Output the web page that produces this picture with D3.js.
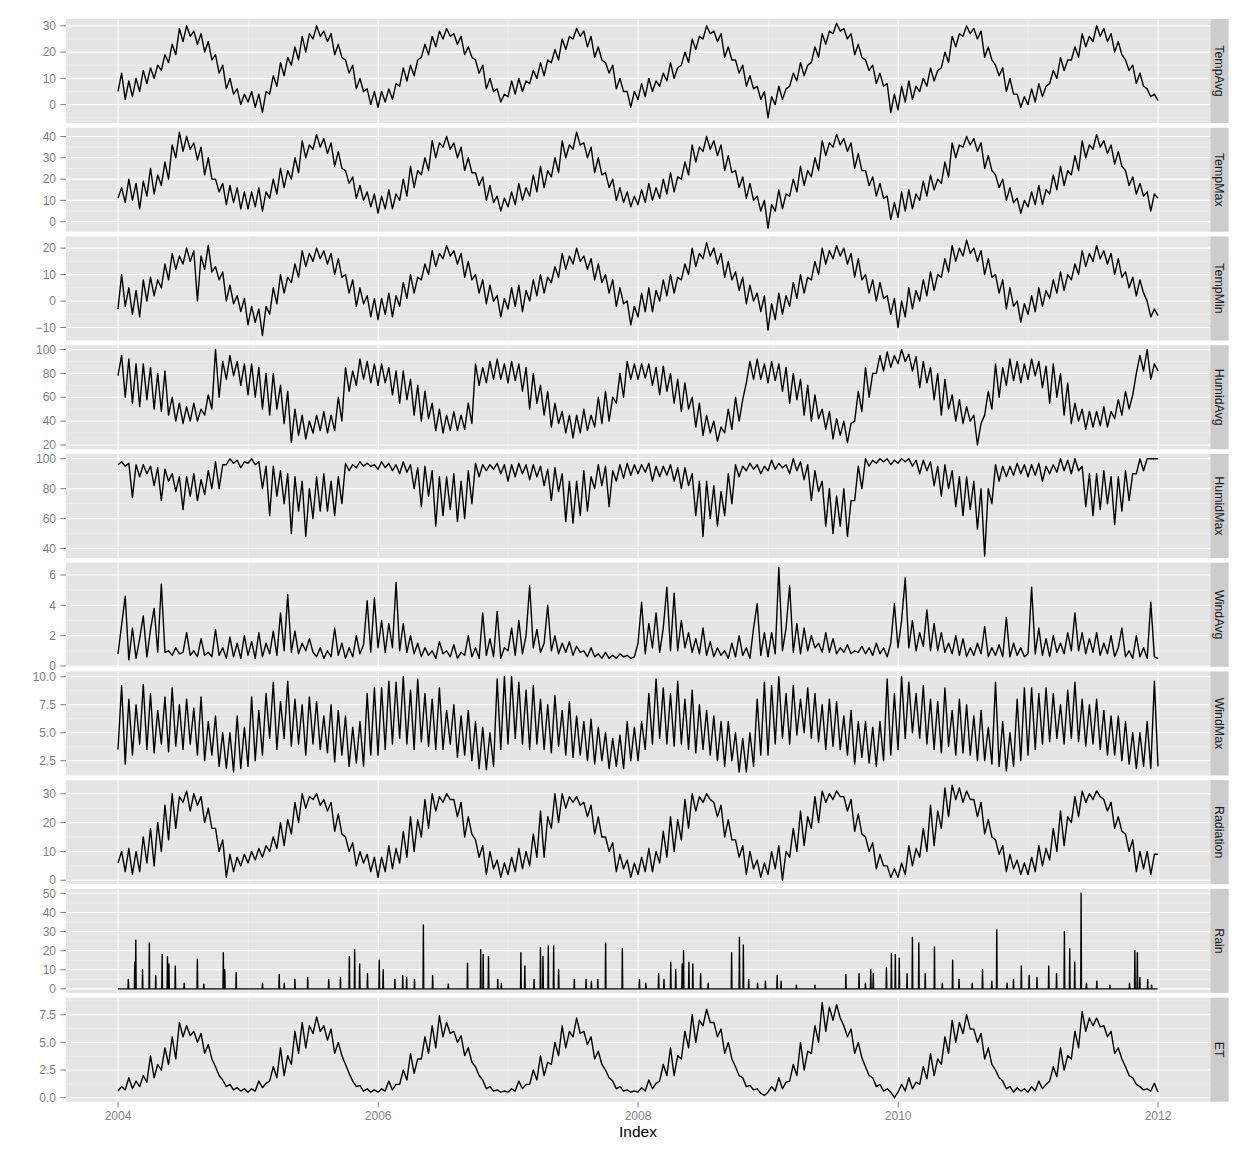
<!DOCTYPE html>
<html>
<head>
<meta charset="utf-8">
<script src="https://cdn.jsdelivr.net/npm/d3@7"></script>
<style>
  body { margin: 0; background: #ffffff; }
  svg { display: block; }
  text { font-family: "Liberation Sans", Arial, Helvetica, sans-serif; }
</style>
</head>
<body>
<svg id="chart" width="1248" height="1152"></svg>
<script>
// ---------------- DATA (~10-day samples, 2004-01-01 .. 2012-01-01, one row per year) ----------------
const variables = ["TempAvg","TempMax","TempMin","HumidAvg","HumidMax","WindAvg","WindMax","Radiation","Rain","ET"];

const tempAvg = [
  5,12,2, 9,3,10, 5,13,8, 14,10,15, 13,19,16, 23,19,29, 24,30,26, 28,23,27, 20,24,17, 19,12,15, 6,10,4, 6,0,4,
  1,5,-1, 4,-3,5, 4,11,7, 16,11,18, 15,22,17, 26,20,27, 25,30,26, 28,24,27, 19,23,18, 17,12,15, 6,10,5, 6,0,5,
  -1,5,1, 6,2,8, 7,14,9, 15,11,17, 18,23,19, 26,22,28, 25,29,26, 27,23,26, 19,22,18, 17,12,15, 6,10,5, 6,1,4,
  3,9,4, 10,5,9, 8,13,10, 16,11,17, 16,21,17, 25,21,26, 25,29,26, 28,22,26, 18,22,17, 16,12,15, 6,10,5, 5,-1,5,
  2,8,3, 10,5,9, 7,12,9, 16,10,14, 15,20,16, 25,21,26, 25,30,27, 28,24,27, 18,22,17, 17,12,15, 7,11,6, 7,2,5,
  -5,3,0, 7,2,6, 7,12,9, 16,11,15, 16,22,18, 27,23,28, 27,31,28, 29,25,27, 19,23,18, 17,13,15, 8,12,7, 8,-3,4,
  -2,7,1, 9,2,7, 5,10,7, 14,9,13, 14,20,16, 26,22,27, 26,30,27, 29,25,28, 18,22,17, 15,11,14, 5,10,4, 4,-1,3,
  0,6,1, 8,3,7, 8,13,10, 18,13,17, 17,22,18, 27,22,26, 24,30,26, 29,24,27, 20,24,19, 17,13,15, 8,12,7, 6,3,4,
  1.5
];
const tempMax = [
  11,16,9, 20,10,18, 6,19,12, 25,13,22, 17,28,20, 36,30,42, 33,40,34, 37,29,35, 22,30,20, 20,14,18, 8,17,9, 16,6,14,
  6,14,7, 16,5,14, 11,20,13, 25,16,24, 20,30,23, 38,30,36, 34,41,35, 39,32,37, 26,33,25, 24,18,21, 11,17,10, 14,7,13,
  4,12,6, 15,6,13, 10,20,12, 26,16,24, 22,30,24, 38,30,37, 35,40,34, 37,30,35, 24,30,23, 23,17,21, 10,17,9, 12,5,11,
  7,14,8, 18,10,16, 12,22,14, 26,16,24, 21,30,23, 38,30,36, 34,42,36, 37,30,35, 23,30,22, 23,16,20, 10,16,9, 14,7,12,
  8,15,9, 18,10,16, 11,20,13, 23,14,21, 20,28,22, 36,28,35, 33,40,34, 38,31,36, 24,31,23, 24,16,21, 11,18,10, 12,5,10,
  -3,8,5, 15,6,13, 12,20,14, 26,17,24, 21,30,24, 38,31,37, 35,41,36, 39,33,37, 25,32,24, 24,17,21, 12,18,11, 12,1,9,
  2,14,5, 15,6,13, 10,19,12, 22,15,20, 18,28,21, 37,30,36, 35,40,36, 39,33,37, 25,31,24, 22,16,20, 10,16,9, 11,4,10,
  7,14,8, 17,8,15, 13,22,15, 26,17,24, 22,31,24, 38,30,36, 34,41,35, 38,32,36, 27,33,26, 24,17,21, 13,18,12, 14,5,13,
  11
];
const tempMin = [
  -3,10,-2, 5,-5,4, -6,8,0, 9,2,8, 5,14,8, 18,12,17, 14,20,15, 19,0,17, 12,21,11, 13,8,11, 0,6,-1, 2,-4,1,
  -9,-2,-8, -3,-13,-2, -5,5,-1, 10,3,9, 7,14,9, 19,13,18, 15,20,16, 19,14,18, 10,16,9, 10,3,8, -2,5,-1, 2,-6,1,
  -7,1,-5, 3,-6,2, -2,7,1, 10,3,9, 8,14,10, 19,13,18, 16,21,17, 19,14,18, 9,15,8, 10,3,8, -1,6,0, 2,-6,1,
  -3,5,-2, 6,-4,4, 0,8,2, 10,3,9, 7,13,9, 18,12,17, 14,20,15, 17,12,16, 8,14,7, 10,3,8, -2,5,-1, 0,-9,-2,
  -6,3,-4, 5,-4,4, 0,8,2, 10,3,9, 8,14,10, 20,13,18, 16,22,17, 20,14,18, 9,15,8, 11,4,9, -1,6,0, 3,-4,2,
  -11,-1,-7, 3,-5,2, -2,7,1, 10,3,9, 8,15,10, 20,14,19, 16,21,17, 20,14,18, 9,16,8, 10,3,8, 0,7,1, 2,-5,1,
  -10,0,-6, 5,-3,4, 0,8,2, 11,4,10, 9,16,11, 21,15,20, 17,23,18, 20,15,19, 10,16,9, 10,3,8, -3,5,-2, 0,-8,-1,
  -5,2,-4, 5,-2,4, 1,8,3, 11,4,10, 8,14,10, 19,13,18, 15,21,16, 19,14,18, 10,16,9, 11,5,9, 2,8,3, 0,-6,-3,
  -5.5
];
const humidAvg = [
  78,95,60, 92,55,88, 52,88,58, 85,50,80, 48,82,45, 60,40,55, 38,52,40, 55,40,50, 45,62,50, 100,60,90, 75,95,78, 90,70,88,
  62,88,60, 85,50,80, 45,80,50, 70,38,65, 22,50,28, 45,25,40, 30,45,32, 48,30,45, 32,60,40, 85,65,82, 70,92,75, 90,72,88,
  70,88,72, 85,62,82, 55,82,58, 75,45,70, 40,65,42, 55,32,50, 30,45,32, 48,32,45, 33,55,38, 88,70,85, 72,90,75, 92,75,88,
  72,90,74, 88,65,85, 50,80,55, 70,45,65, 35,55,38, 48,30,45, 26,45,30, 50,32,45, 35,60,38, 65,40,60, 55,80,60, 90,75,88,
  75,88,76, 88,70,85, 62,86,65, 80,55,75, 48,72,50, 60,35,55, 28,45,30, 40,23,35, 30,50,33, 60,40,58, 72,90,75, 92,75,88,
  72,90,74, 88,65,85, 55,80,58, 75,45,70, 40,62,42, 50,33,48, 25,42,28, 40,22,38, 40,65,48, 85,60,80, 80,95,82, 98,85,95,
  88,100,90, 96,82,94, 68,90,72, 85,58,80, 45,75,50, 62,40,58, 38,52,40, 45,20,38, 45,65,50, 88,60,85, 70,92,74, 90,72,88,
  75,92,78, 90,68,86, 55,88,60, 80,45,72, 38,55,40, 50,33,48, 35,48,36, 52,35,48, 42,58,45, 65,50,62, 80,95,82, 100,75,88,
  82
];
const humidMax = [
  96,98,95, 97,74,96, 88,96,90, 95,82,94, 72,93,85, 90,78,88, 66,88,75, 90,72,86, 76,92,80, 98,80,96, 96,100,97, 99,94,98,
  97,100,96, 98,80,95, 62,95,75, 92,70,90, 50,88,65, 85,48,80, 60,88,65, 90,65,85, 62,88,70, 97,92,96, 94,98,95, 97,95,96,
  93,98,94, 97,92,96, 90,98,91, 96,80,94, 68,95,75, 92,55,88, 62,88,66, 90,58,85, 60,92,70, 97,88,96, 92,96,93, 97,90,96,
  85,96,88, 97,90,96, 86,96,88, 95,82,93, 72,94,78, 90,58,85, 57,85,62, 92,65,88, 80,96,82, 95,68,92, 85,96,87, 97,89,96,
  90,96,91, 97,85,95, 88,95,89, 96,85,94, 80,94,82, 90,62,85, 48,85,60, 82,55,78, 62,90,70, 96,88,95, 92,97,93, 96,90,95,
  92,99,93, 97,94,96, 90,100,92, 98,86,96, 72,92,78, 85,55,80, 50,75,55, 80,48,72, 72,95,80, 100,95,99, 97,100,98, 100,96,99,
  97,100,98, 100,95,99, 90,99,92, 98,82,95, 75,96,80, 92,68,88, 62,88,66, 85,53,80, 35,80,70, 96,85,95, 88,95,89, 97,90,96,
  88,96,89, 97,85,95, 90,96,91, 100,92,99, 90,100,92, 95,68,90, 62,90,66, 92,70,88, 56,88,65, 92,72,90, 90,100,92, 100,100,100,
  100
];
const windAvg = [
  0.8,2.7,4.6,0.4,2.5,0.5,1.8,3.3,0.6,2.4,3.8,0.9,5.4,0.9,1.0,0.7,1.2,0.8,0.9,2.2,0.7,1.0,0.6,1.8,0.7,0.9,0.6,2.4,0.7,1.2,0.5,1.9,0.6,1.5,0.5,2.0,
  0.7,1.6,0.5,2.2,0.6,1.5,0.8,2.3,0.7,3.5,1.0,4.7,0.9,2.3,0.8,1.5,1.0,1.8,0.9,0.6,1.2,0.5,1.0,0.6,2.5,0.7,1.5,0.5,1.2,0.6,2.0,0.8,1.4,4.3,0.9,4.5,
  1.2,3.0,0.9,2.8,1.2,5.5,1.0,2.8,0.9,2.0,0.8,1.5,0.6,1.2,0.7,1.0,0.5,1.6,0.8,1.0,0.6,1.4,0.5,0.9,0.7,2.0,0.6,1.2,0.5,3.5,0.7,1.8,0.6,3.6,0.5,1.2,
  1.0,2.5,0.7,3.0,0.8,2.0,5.3,1.2,2.4,0.9,1.5,4.0,1.0,2.0,0.8,1.5,0.9,1.6,0.7,1.3,0.9,1.0,0.6,1.2,0.6,0.8,0.5,0.9,0.5,0.7,0.5,0.8,0.6,0.7,0.5,0.6,
  1.5,4.2,0.8,2.8,1.2,3.5,0.9,2.5,5.2,1.0,4.8,1.0,3.0,1.2,2.2,0.9,1.8,0.8,2.5,0.7,1.6,0.6,1.2,0.7,1.0,0.5,1.5,0.6,2.0,0.7,1.2,0.5,2.5,4.1,0.7,2.2,
  0.6,2.2,0.8,6.5,1.0,2.5,5.3,0.9,2.8,0.8,2.5,1.0,2.0,1.2,1.5,0.9,2.2,0.9,1.8,0.8,1.2,0.9,1.4,0.8,1.0,0.9,1.3,0.8,1.2,0.7,1.5,0.8,1.2,0.6,1.5,4.1,
  1.2,3.0,5.8,1.2,3.0,1.0,2.2,1.3,3.7,1.0,2.8,1.0,2.2,0.9,1.5,0.8,2.0,0.7,1.8,0.6,1.2,0.7,1.5,0.8,2.6,0.6,1.2,0.7,1.4,0.6,3.2,0.6,1.5,0.7,1.2,0.6,
  0.8,5.2,0.8,2.5,0.7,1.8,0.6,2.0,0.9,1.5,0.8,2.2,1.0,3.5,1.0,2.2,0.8,1.8,0.9,2.2,0.7,1.5,0.8,2.0,0.6,1.2,2.5,0.6,1.0,0.5,2.0,0.6,1.2,0.5,4.2,0.6,
  0.5
];
const windMax = [
  3.5,9.2,2.2, 8.0,3.0,7.5, 4.0,9.3,3.5, 8.5,3.2,7.0, 4.0,8.2,3.3, 9.0,3.8,7.5, 3.5,8.0,4.0, 7.2,3.0,8.2, 2.5,6.0,3.0, 6.5,2.0,5.0, 1.8,5.0,1.5, 6.5,1.8,5.5,
  2.0,8.2,2.5, 7.0,3.0,8.5, 4.5,9.5,3.5, 7.8,4.5,9.6, 3.8,8.0,4.0, 7.5,3.0,8.2, 4.0,7.8,3.5, 6.5,3.2,7.5, 2.4,7.0,3.0, 6.5,2.0,5.5, 2.3,6.0,2.0, 8.5,3.0,9.0,
  3.0,9.0,3.5, 9.6,4.0,9.5, 4.5,10.0,4.0, 8.8,3.5,9.8, 4.2,8.5,3.8, 8.0,3.5,9.0, 3.5,7.0,4.0, 7.5,2.8,6.5, 3.0,7.0,2.5, 6.0,1.8,5.5, 1.7,5.0,2.0, 9.8,3.5,10.0,
  4.0,10.0,4.5, 9.5,4.0,8.8, 3.5,9.2,4.0, 8.0,3.5,7.5, 3.2,8.3,3.8, 7.0,3.0,7.8, 2.8,6.5,3.0, 6.0,2.5,6.2, 2.2,5.5,2.5, 5.0,1.8,4.5, 2.0,4.8,1.8, 6.0,2.5,5.5,
  2.5,6.0,3.5, 8.5,4.0,9.8, 4.5,9.0,4.0, 8.5,3.8,9.6, 4.0,8.0,3.5, 8.8,3.2,7.5, 3.5,7.0,3.0, 6.5,2.5,6.0, 2.0,6.0,2.5, 5.0,1.5,4.5, 1.5,5.0,2.0, 8.0,3.0,9.5,
  3.0,9.2,4.0, 10.0,4.5,8.5, 4.0,9.2,4.8, 8.0,5.0,9.0, 4.5,8.5,4.2, 7.5,3.5,8.0, 3.8,7.8,3.5, 6.5,3.0,7.0, 2.2,6.0,2.8, 6.0,2.3,5.5, 2.0,6.0,2.5, 9.8,3.0,8.5,
  3.5,10.0,4.5, 9.5,5.0,8.5, 4.5,9.2,4.0, 8.0,3.5,7.8, 3.2,9.0,3.8, 7.0,3.0,8.0, 3.2,7.5,3.0, 6.5,2.5,7.0, 2.5,5.5,2.2, 9.5,2.0,6.0, 1.6,5.0,2.0, 8.0,2.5,9.0,
  3.0,9.0,3.5, 8.5,4.0,9.0, 4.2,8.5,4.5, 7.5,4.0,8.8, 4.5,9.5,4.2, 8.0,3.8,7.5, 4.0,8.0,3.5, 7.0,3.0,6.5, 3.0,6.5,2.5, 6.0,2.2,5.0, 1.8,5.0,2.0, 6.0,1.8,9.6,
  2.0
];
const radiation = [
  6,10,3, 11,2,10, 3,15,6, 18,5,20, 10,26,14, 30,18,29, 27,31,24, 30,26,29, 20,25,18, 18,10,14, 1,9,3, 8,5,9,
  6,10,7, 11,8,12, 10,15,11, 20,12,21, 16,27,20, 30,25,29, 28,30,26, 28,24,27, 17,23,16, 15,10,13, 5,10,6, 9,3,8,
  1,8,3, 12,4,11, 6,17,8, 22,10,21, 15,28,18, 30,24,29, 27,30,28, 28,22,27, 15,22,16, 14,8,12, 2,10,4, 7,1,6,
  2,8,3, 11,4,10, 5,16,8, 24,8,22, 18,30,20, 30,25,29, 27,29,26, 27,22,26, 16,22,15, 15,10,13, 3,9,4, 7,1,6,
  2,8,3, 11,3,10, 6,17,8, 22,10,21, 14,28,18, 30,24,29, 27,30,28, 27,22,26, 15,21,14, 14,8,12, 2,10,4, 7,1,6,
  2,10,4, 12,0,10, 8,18,10, 24,12,22, 18,29,20, 31,27,30, 28,31,29, 29,24,28, 17,23,16, 15,10,13, 4,9,5, 5,1,4,
  1,6,2, 12,5,11, 8,18,10, 26,12,24, 18,32,22, 33,28,32, 27,31,28, 28,22,27, 16,21,15, 14,9,12, 3,9,4, 7,2,6,
  2,8,3, 12,5,11, 7,18,10, 24,12,22, 20,29,22, 31,27,30, 28,31,29, 28,24,27, 18,22,17, 16,10,14, 3,10,4, 10,2,9,
  9
];
// Rain: days after 2004-01-01 with a visible rain spike, and the spike height (mm); zero elsewhere
const rainDays = [
  29,47,50,69,88,106,124,139,143,161,186,223,241,296,300,332,406,453,467,497,
  533,592,625,650,665,679,701,734,745,778,800,811,833,858,884,928,982,1019,1026,1041,
  1067,1077,1132,1143,1169,1187,1194,1209,1224,1238,1282,1315,1330,1348,1370,1417,1465,1483,1519,1534,
  1553,1567,1585,1589,1604,1615,1637,1658,1724,1746,1757,1772,1797,1819,1852,1863,1906,1958,2045,2082,
  2100,2115,2122,2159,2173,2184,2195,2217,2232,2250,2268,2294,2316,2345,2363,2400,2429,2455,2469,2498,
  2516,2538,2560,2582,2615,2637,2659,2674,2688,2706,2721,2750,2787,2842,2857,2864,2871,2893,2904
];
const rainValues = [
  5,14,25.5,10,24,7,18,17,13,12,3,15.5,2.5,19,10,8.5,3,7.5,3,5,
  6,5,6,17,20.5,13,8,15,10,5,7,6,5,33.5,7,2.5,13.5,20.5,18,17,
  5,3,19,12,5,21.5,17,22.5,22.5,10,5,5,4,5,24,21,5,3,8,5,
  14,10,13,20,14,13,8,3,19,27,23,5,3,4,7,4,2,2,7.5,8,
  3,10,8,11,18.5,18,16,8,27,24,8,22,3,15,5,3,10,4,31,3,
  5,12,7,6,12,8,30,21,14,50,3,4,2,3,20,19,6,5,2
];
const et = [
  0.6,1.0,0.7, 1.8,0.8,1.5, 1.0,2.0,1.4, 3.8,1.8,3.0, 2.5,4.5,3.0, 5.5,3.5,6.8, 5.5,6.5,5.6, 6.0,5.0,5.8, 4.0,4.8,3.5, 2.8,2.0,1.6, 1.0,1.2,0.7, 0.9,0.6,0.8,
  0.5,0.8,0.6, 1.5,0.9,1.3, 1.5,2.8,1.8, 4.5,2.0,3.8, 3.0,6.0,4.0, 6.8,4.5,6.5, 5.8,7.3,6.0, 6.5,5.2,6.2, 4.0,5.0,3.8, 3.0,2.2,1.5, 1.0,1.1,0.6, 0.8,0.5,0.7,
  0.5,0.8,0.6, 1.5,0.7,1.2, 1.2,2.5,1.6, 4.0,2.2,3.5, 3.5,5.5,4.0, 6.5,4.5,7.4, 5.5,6.8,5.8, 6.0,5.0,5.6, 3.8,4.5,3.2, 2.8,2.0,1.6, 0.8,1.0,0.6, 0.7,0.5,0.6,
  0.5,0.8,0.6, 1.5,0.8,1.2, 1.2,2.5,1.6, 3.8,2.0,3.2, 3.0,5.0,3.8, 6.5,4.5,6.0, 5.5,7.2,5.8, 6.0,4.8,5.5, 3.5,4.2,3.0, 2.5,1.8,1.5, 0.8,1.0,0.6, 0.7,0.5,0.6,
  0.5,0.9,0.6, 1.6,0.8,1.3, 1.5,3.0,2.0, 4.5,2.0,3.8, 3.5,6.0,4.5, 7.5,5.0,7.0, 6.5,8.0,6.8, 6.8,5.5,6.2, 4.0,5.0,3.5, 2.8,2.0,1.8, 1.0,1.1,0.7, 0.8,0.4,0.2,
  0.5,1.0,0.6, 1.8,0.8,1.4, 1.5,3.0,2.0, 5.0,2.5,4.2, 4.0,6.5,5.0, 8.6,6.0,8.2, 7.0,8.4,7.2, 6.5,5.5,6.2, 4.0,5.0,3.6, 2.8,2.0,1.8, 1.0,1.2,0.6, 0.8,0.5,0.0,
  0.5,1.2,0.6, 1.8,0.8,1.4, 1.2,2.8,1.7, 4.0,2.0,3.5, 3.0,5.5,4.0, 7.0,5.0,6.8, 5.8,7.5,6.2, 6.2,5.0,5.8, 3.5,4.5,3.0, 2.5,1.8,1.5, 0.8,1.0,0.5, 0.9,0.6,0.8,
  0.5,1.0,0.6, 1.5,0.8,1.2, 1.5,2.8,1.9, 4.5,2.5,3.8, 3.5,6.0,4.5, 7.8,6.0,7.2, 6.5,7.2,6.4, 6.5,5.5,6.0, 4.0,4.5,3.5, 2.8,2.0,1.8, 1.2,1.0,0.7, 0.8,0.6,1.3,
  0.5
];

// axis settings per panel
const yLimits = [[-7.0,32.6],[-4.7,44.1],[-14.9,24.4],[16.4,103.6],[33.7,103.2],[-0.05,6.81],[1.19,10.47],[-1.35,34.7],[-2.1,52.3],[-0.36,9.04]];
const yTicks = [[0,10,20,30],[0,10,20,30,40],[-10,0,10,20],[20,40,60,80,100],[40,60,80,100],[0,2,4,6],[2.5,5,7.5,10],[0,10,20,30],[0,10,20,30,40,50],[0,2.5,5,7.5]];
const yTickFormat = ["d","d","d","d","d","d",".1f","d","d",".1f"];
const xTickLabels = ["2004","2006","2008","2010","2012"];
const xMinorLabels = ["2005","2007","2009","2011"];

// ---------------- LAYOUT ----------------
const svg = d3.select("#chart");
const left = 66, panelW = 1144, top0 = 19, panelH = 104, step = 108.74;
const stripX = left + panelW + 0.3, stripW = 18.3;

const t0 = Date.UTC(2004,0,1), t1 = Date.UTC(2012,0,1);
const pad = (t1 - t0) * 0.05;
const x = d3.scaleUtc().domain([new Date(t0 - pad), new Date(t1 + pad)]).range([left, left + panelW]);
const DAY = 864e5;
const samplesPerYear = 36;
const sampleDate = k => new Date(t0 + k * (t1 - t0) / (8 * samplesPerYear));
const yearDate = s => new Date(Date.UTC(+s, 0, 1));

// rain series: zero baseline with spikes
const rainPts = [[new Date(t0), 0]];
rainDays.forEach((d, i) => {
  if (rainValues[i] === undefined) return;
  rainPts.push([new Date(t0 + (d - 1) * DAY), 0]);
  rainPts.push([new Date(t0 + d * DAY), rainValues[i]]);
  rainPts.push([new Date(t0 + (d + 1) * DAY), 0]);
});
rainPts.push([new Date(t1 - DAY), 0]);

const seriesList = [tempAvg, tempMax, tempMin, humidAvg, humidMax, windAvg, windMax, radiation, null, et];

variables.forEach((name, i) => {
  const top = top0 + i * step;
  const y = d3.scaleLinear().domain(yLimits[i]).range([top + panelH, top]);
  const g = svg.append("g");

  g.append("rect").attr("x", left).attr("y", top).attr("width", panelW).attr("height", panelH).attr("fill", "#E5E5E5");

  // minor grid
  const ticks = yTicks[i];
  const st = ticks[1] - ticks[0];
  const minorY = [];
  for (let v = ticks[0] - st / 2; v <= ticks[ticks.length - 1] + st / 2 + 1e-9; v += st) minorY.push(v);
  g.selectAll(".mny").data(minorY.filter(v => v >= yLimits[i][0] && v <= yLimits[i][1])).enter().append("line")
    .attr("x1", left).attr("x2", left + panelW).attr("y1", d => y(d)).attr("y2", d => y(d))
    .attr("stroke", "#F2F2F2").attr("stroke-width", 0.55);
  g.selectAll(".mnx").data(xMinorLabels).enter().append("line")
    .attr("x1", d => x(yearDate(d))).attr("x2", d => x(yearDate(d))).attr("y1", top).attr("y2", top + panelH)
    .attr("stroke", "#F2F2F2").attr("stroke-width", 0.55);
  // major grid
  g.selectAll(".mjy").data(ticks).enter().append("line")
    .attr("x1", left).attr("x2", left + panelW).attr("y1", d => y(d)).attr("y2", d => y(d))
    .attr("stroke", "#FFFFFF").attr("stroke-width", 1.1);
  g.selectAll(".mjx").data(xTickLabels).enter().append("line")
    .attr("x1", d => x(yearDate(d))).attr("x2", d => x(yearDate(d))).attr("y1", top).attr("y2", top + panelH)
    .attr("stroke", "#FFFFFF").attr("stroke-width", 1.1);

  // data line
  const clipId = "clip" + i;
  svg.append("clipPath").attr("id", clipId).append("rect")
    .attr("x", left).attr("y", top).attr("width", panelW).attr("height", panelH);
  const pts = seriesList[i] ? seriesList[i].map((v, k) => [sampleDate(k), v]) : rainPts;
  const line = d3.line().x(d => x(d[0])).y(d => y(d[1]));
  g.append("path").attr("d", line(pts)).attr("clip-path", `url(#${clipId})`)
    .attr("fill", "none").attr("stroke", "#000").attr("stroke-width", 1.4).attr("stroke-linejoin", "round");

  // y axis ticks + labels
  const fmt = d3.format(yTickFormat[i]);
  g.selectAll(".yt").data(ticks).enter().append("line")
    .attr("x1", left - 5.7).attr("x2", left).attr("y1", d => y(d)).attr("y2", d => y(d))
    .attr("stroke", "#7F7F7F").attr("stroke-width", 1);
  g.selectAll(".yl").data(ticks).enter().append("text")
    .attr("x", left - 10).attr("y", d => y(d)).attr("dy", "0.35em")
    .attr("text-anchor", "end").attr("font-size", "12px").attr("fill", "#7F7F7F")
    .text(d => fmt(d));

  // strip
  g.append("rect").attr("x", stripX).attr("y", top).attr("width", stripW).attr("height", panelH).attr("fill", "#CCCCCC");
  g.append("text")
    .attr("transform", `translate(${stripX + stripW / 2},${top + panelH / 2}) rotate(90)`)
    .attr("text-anchor", "middle").attr("dy", "0.35em")
    .attr("font-size", "12.4px").attr("fill", "#1A1A1A").text(name);
});

// x axis
const bottom = top0 + 9 * step + panelH;
svg.selectAll(".xt").data(xTickLabels).enter().append("line")
  .attr("x1", d => x(yearDate(d))).attr("x2", d => x(yearDate(d)))
  .attr("y1", bottom).attr("y2", bottom + 5.7)
  .attr("stroke", "#7F7F7F").attr("stroke-width", 1);
svg.selectAll(".xl").data(xTickLabels).enter().append("text")
  .attr("x", d => x(yearDate(d))).attr("y", bottom + 18.8)
  .attr("text-anchor", "middle").attr("font-size", "12px").attr("fill", "#7F7F7F")
  .text(d => d);
svg.append("text").attr("x", left + panelW / 2).attr("y", bottom + 35.5)
  .attr("text-anchor", "middle").attr("font-size", "15.5px").attr("fill", "#000").text("Index");
</script>
</body>
</html>
